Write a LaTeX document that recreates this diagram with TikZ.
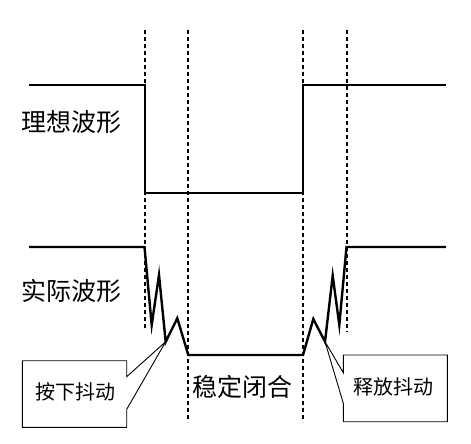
\documentclass[tikz,border=0pt]{standalone}
\usepackage{fontspec}
\newfontfamily\cjk{Noto Sans CJK SC}
\begin{document}
\begin{tikzpicture}[x=1pt,y=-1pt,
  wave/.style={line width=2.4pt,line join=miter},
  guide/.style={line width=1.4pt,dash pattern=on 4pt off 3pt},
  lbl/.style={font=\cjk\fontsize{25}{25}\selectfont,inner sep=0pt},
  calltext/.style={font=\cjk\fontsize{20}{20}\selectfont,inner sep=0pt},
  callbox/.style={line width=0.9pt,line join=miter}]
\useasboundingbox (0,0) rectangle (471,444);
% guide lines
\coordinate (g1t) at (145,30); \coordinate (g1b) at (145,330);
\coordinate (g2t) at (188,30); \coordinate (g2b) at (188,422);
\coordinate (g3t) at (303,30); \coordinate (g3b) at (303,422);
\coordinate (g4t) at (347,30); \coordinate (g4b) at (347,332);
\draw[guide] (g1t) -- (g1b);
\draw[guide] (g2t) -- (g2b);
\draw[guide] (g3t) -- (g3b);
\draw[guide] (g4t) -- (g4b);
% ideal waveform
\coordinate (i0) at (29,85); \coordinate (i1) at (145,85);
\coordinate (i2) at (145,193); \coordinate (i3) at (303,193);
\coordinate (i4) at (303,85); \coordinate (i5) at (446,85);
\draw[wave] (i0) -- (i1) -- (i2) -- (i3) -- (i4) -- (i5);
% actual waveform
\coordinate (a0) at (29,247); \coordinate (a1) at (144.5,247);
\coordinate (a2) at (151.7,325); \coordinate (a3) at (159,275);
\coordinate (pt) at (165.7,341.7); \coordinate (a5) at (177.3,318.3);
\coordinate (a6) at (188.3,355); \coordinate (a7) at (303,355);
\coordinate (a8) at (313.3,319); \coordinate (rt) at (325,341.7);
\coordinate (a10) at (332.7,275.7); \coordinate (a11) at (339.3,325);
\coordinate (a12) at (346.5,247); \coordinate (a13) at (446,247);
\draw[wave] (a0) -- (a1) -- (a2) -- (a3) -- (pt) -- (a5) -- (a6) -- (a7)
  -- (a8) -- (rt) -- (a10) -- (a11) -- (a12) -- (a13);
% labels
\node[lbl] (ideal) at (71,122) {理想波形};
\node[lbl] (actual) at (71,291) {实际波形};
\node[lbl] (stable) at (242,387) {稳定闭合};
% callout 1
\draw[callbox] (22.3,360.7) -- (126.7,360.7) -- (126.7,376.7) -- (pt)
  -- (126.7,409.3) -- (126.7,427.3) -- (22.3,427.3) -- cycle;
\node[calltext] (press) at (75,392) {按下抖动};
% callout 2
\draw[callbox] (343.3,355) -- (447.3,355) -- (447.3,421.7) -- (343.3,421.7)
  -- (343.3,403.3) -- (rt) -- (343.3,372.7) -- cycle;
\node[calltext] (release) at (393,387) {释放抖动};
\end{tikzpicture}
\end{document}
